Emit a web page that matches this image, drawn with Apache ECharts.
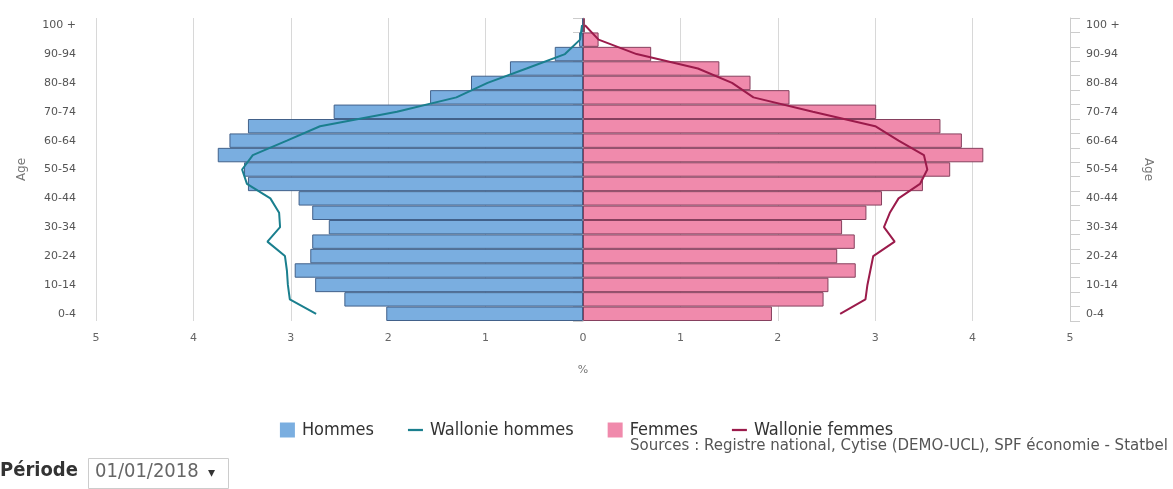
<!DOCTYPE html>
<html>
<head>
<meta charset="utf-8">
<script src="https://cdn.jsdelivr.net/npm/echarts@6/dist/echarts.min.js"></script>
<style>
html,body{margin:0;padding:0;background:#fff;}
#chart{width:1173px;height:489px;}
</style>
</head>
<body>
<div id="chart"></div>
<script>
var categories = ['0-4','5-9','10-14','15-19','20-24','25-29','30-34','35-39','40-44','45-49','50-54','55-59','60-64','65-69','70-74','75-79','80-84','85-89','90-94','95-99','100 +'];
var xTicks = [-5,-4,-3,-2,-1,0,1,2,3,4,5];
var hommes = [2.02, 2.45, 2.75, 2.96, 2.80, 2.78, 2.61, 2.78, 2.92, 3.44, 3.48, 3.75, 3.63, 3.44, 2.56, 1.57, 1.15, 0.75, 0.29, 0.04, 0.01];
var femmes = [1.94, 2.47, 2.52, 2.80, 2.61, 2.79, 2.66, 2.91, 3.07, 3.49, 3.77, 4.11, 3.89, 3.67, 3.01, 2.12, 1.72, 1.40, 0.70, 0.16, 0.02];
var wallonieHommes = [2.74, 3.01, 3.03, 3.04, 3.06, 3.24, 3.11, 3.12, 3.21, 3.45, 3.50, 3.39, 3.04, 2.70, 1.91, 1.30, 0.98, 0.58, 0.185, 0.03, 0.01];
var wallonieFemmes = [2.64, 2.90, 2.92, 2.95, 2.98, 3.20, 3.09, 3.15, 3.24, 3.46, 3.535, 3.50, 3.24, 3.00, 2.36, 1.75, 1.53, 1.18, 0.55, 0.16, 0.02];

var chart = echarts.init(document.getElementById('chart'), null, {renderer:'canvas'});
var narrow = '"Liberation Sans Narrow", "DejaVu Sans Condensed", sans-serif';
var lineIcon = 'path://M0,0L16,0L16,2.4L0,2.4Z';
function catAxis(pos, rot, gap, margin) {
  return {
    type: 'category', data: categories, position: pos,
    axisLine: {show: true, lineStyle: {color: '#ccc'}},
    axisTick: {show: true, interval: 0, length: 10, lineStyle: {color: '#ccc'}},
    axisLabel: {interval: 1, margin: margin, color: '#555', fontSize: 11, fontFamily: 'DejaVu Sans'},
    splitLine: {show: false},
    name: 'Age', nameLocation: 'middle', nameGap: gap, nameRotate: rot,
    nameTextStyle: {color: '#777', fontSize: 12, fontFamily: 'DejaVu Sans'}
  };
}
chart.setOption({
  animation: false,
  grid: {left: 96, right: 103, top: 18, bottom: 168},
  xAxis: {
    type: 'value', min: xTicks[0], max: xTicks[xTicks.length - 1], interval: 1,
    axisLine: {show: false}, axisTick: {show: false},
    axisLabel: {formatter: function (v) { return Math.abs(v); }, color: '#666', fontSize: 11, margin: 12, fontFamily: 'DejaVu Sans'},
    splitLine: {show: true, lineStyle: {color: '#d8d8d8'}},
    name: '%', nameLocation: 'middle', nameGap: 44,
    nameTextStyle: {color: '#777', fontSize: 11, fontFamily: 'DejaVu Sans'}
  },
  yAxis: [catAxis('left', 90, 68, 20), catAxis('right', -90, 72, 16)],
  legend: {
    top: 416, left: 'center', itemGap: 34, itemWidth: 15, itemHeight: 15,
    symbolKeepAspect: true,
    itemStyle: {borderWidth: 0},
    textStyle: {fontFamily: narrow, fontSize: 18, color: '#333', padding: [0, 0, 0, 2]},
    data: [
      {name: 'Hommes', icon: 'rect'},
      {name: 'Wallonie hommes', icon: lineIcon},
      {name: 'Femmes', icon: 'rect'},
      {name: 'Wallonie femmes', icon: lineIcon}
    ]
  },
  series: [
    {name: 'Hommes', type: 'bar', stack: 'pop', yAxisIndex: 0, barCategoryGap: '0%',
     data: hommes.map(function (v) { return -v; }),
     itemStyle: {color: '#7aaee0', borderColor: '#42618a', borderWidth: 1}},
    {name: 'Wallonie hommes', type: 'line', yAxisIndex: 0, symbol: 'none',
     data: wallonieHommes.map(function (v) { return -v; }),
     itemStyle: {color: '#1a7f8e'}, lineStyle: {color: '#1a7f8e', width: 2}},
    {name: 'Femmes', type: 'bar', stack: 'pop', yAxisIndex: 0, barCategoryGap: '0%',
     data: femmes,
     itemStyle: {color: '#f08aac', borderColor: '#86405e', borderWidth: 1}},
    {name: 'Wallonie femmes', type: 'line', yAxisIndex: 0, symbol: 'none',
     data: wallonieFemmes,
     itemStyle: {color: '#9b1b4b'}, lineStyle: {color: '#9b1b4b', width: 2}}
  ],
  graphic: [
    {type: 'text', right: 5, top: 439,
     style: {text: 'Sources : Registre national, Cytise (DEMO-UCL), SPF économie - Statbel', font: '15px "DejaVu Sans", sans-serif', fill: '#555'}},
    {type: 'text', left: 0, top: 461,
     style: {text: 'Période', font: 'bold 20px ' + narrow, fill: '#333'}},
    {type: 'rect', left: 88, top: 458, shape: {width: 140, height: 30},
     style: {fill: '#fff', stroke: '#ccc', lineWidth: 1}},
    {type: 'text', left: 95, top: 462,
     style: {text: '01/01/2018', font: '20px ' + narrow, fill: '#666'}},
    {type: 'text', left: 208, top: 466,
     style: {text: '▾', font: '14px "DejaVu Sans"', fill: '#333'}}
  ]
});
</script>
</body>
</html>
